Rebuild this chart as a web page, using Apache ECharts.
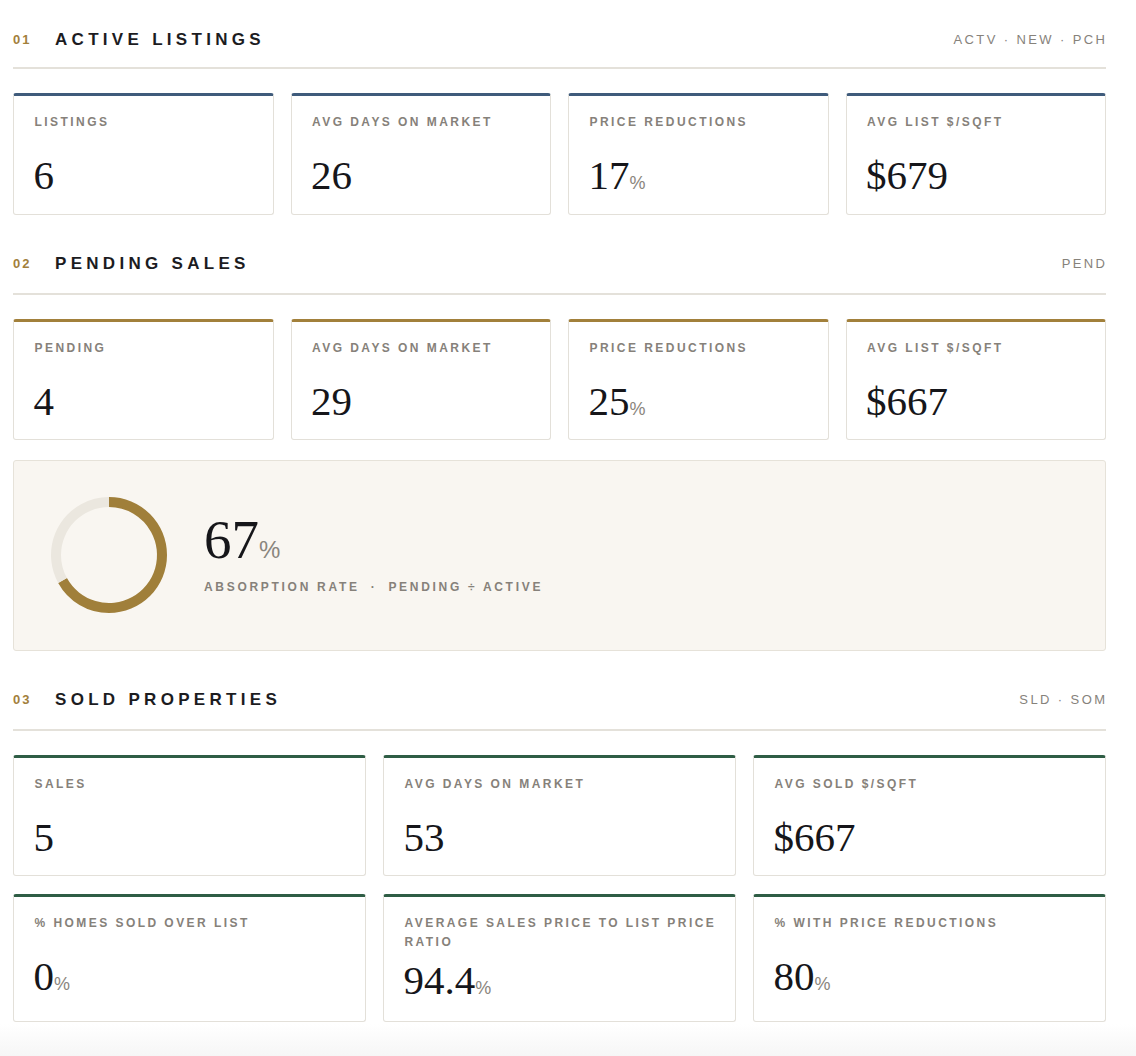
<!DOCTYPE html>
<html>
<head>
<meta charset="utf-8">
<title>Market Snapshot</title>
<script src="https://cdn.jsdelivr.net/npm/echarts@6/dist/echarts.min.js"></script>
<style>
    html, body { margin: 0; padding: 0; }
    body {
        width: 1136px; height: 1056px; position: relative; overflow: hidden;
        background: linear-gradient(#fff 1024px, #f6f6f6 1056px);
        font-family: "Liberation Sans", Arial, sans-serif;
    }
    .hdr { position: absolute; left: 13px; width: 1093px; height: 20px; line-height: 20px; white-space: nowrap; }
    .hdr .num { position: absolute; left: 0; font-size: 13px; font-weight: bold; color: #a2803b; letter-spacing: 2px; }
    .hdr .ttl { position: absolute; left: 42px; font-size: 17px; font-weight: bold; color: #1c1c1f; letter-spacing: 4.3px; }
    .hdr .code { position: absolute; right: -1.4px; font-size: 13px; color: #86827b; letter-spacing: 2.4px; }
    .rule { position: absolute; left: 13px; width: 1093px; height: 2px; background: #e4e1da; }
    .card {
        position: absolute; box-sizing: border-box; background: #fff;
        border: 1.5px solid #e3e0d9; border-top: 3px solid; border-radius: 3px;
    }
    .card .lbl {
        position: absolute; left: 20.5px; right: 14px; top: 17px;
        font-size: 12px; font-weight: bold; color: #86817a; letter-spacing: 2.45px; line-height: 19px;
    }
    .val {
        position: absolute; white-space: nowrap; color: #16161a;
        font-family: "Liberation Serif", "Times New Roman", serif;
    }
    .card .val { left: 19.5px; top: 58.7px; font-size: 41px; line-height: 41px; }
    .unit { font-family: "Liberation Sans", Arial, sans-serif; font-size: 18px; line-height: 1; color: #8a857d; }
    .panel {
        position: absolute; left: 13px; top: 460px; width: 1093px; height: 191px; box-sizing: border-box;
        background: #f9f6f1; border: 1.5px solid #e6e2d9; border-radius: 3px;
    }
    #donut { position: absolute; left: 29px; top: 475px; width: 160px; height: 160px; }
    .big { left: 204px; top: 512px; font-size: 55px; line-height: 55px; }
    .big .unit { font-size: 24px; }
    .sub {
        position: absolute; left: 204px; top: 579px; line-height: 16px; white-space: nowrap;
        font-size: 12px; font-weight: bold; color: #86817a; letter-spacing: 2.7px;
    }
    .sub .dot { margin: 0 5px; }
</style>
</head>
<body>
<div id="page"></div>
<div class="panel"></div>
<div id="donut"></div>
<div class="val big" id="absValue"></div>
<div class="sub">ABSORPTION RATE <span class="dot">·</span> PENDING ÷ ACTIVE</div>

<script>
    // 数据
    let sectionNums = ['01', '02', '03'];
    let sectionTitles = ['ACTIVE LISTINGS', 'PENDING SALES', 'SOLD PROPERTIES'];
    let sectionCodes = ['ACTV · NEW · PCH', 'PEND', 'SLD · SOM'];

    let activeLabels = ['LISTINGS', 'AVG DAYS ON MARKET', 'PRICE REDUCTIONS', 'AVG LIST $/SQFT'];
    let activeValues = [6, 26, 17, 679];
    let activeKinds = ['n', 'n', 'pct', 'usd'];

    let pendingLabels = ['PENDING', 'AVG DAYS ON MARKET', 'PRICE REDUCTIONS', 'AVG LIST $/SQFT'];
    let pendingValues = [4, 29, 25, 667];
    let pendingKinds = ['n', 'n', 'pct', 'usd'];

    let soldLabels = ['SALES', 'AVG DAYS ON MARKET', 'AVG SOLD $/SQFT',
        '% HOMES SOLD OVER LIST', 'AVERAGE SALES PRICE TO LIST PRICE RATIO', '% WITH PRICE REDUCTIONS'];
    let soldValues = [5, 53, 667, 0, 94.4, 80];
    let soldKinds = ['n', 'n', 'usd', 'pct', 'pct', 'pct'];

    let absorptionRate = 67;
    let absorptionRest = 33;

    // 布局
    let page = document.getElementById('page');
    let headerY = [40, 264, 700];
    let ruleY = [66.5, 292.5, 728.5];
    let accent = ['#3f5b7b', '#a2803b', '#2f5d45'];

    function fmt(v, kind) {
        if (kind === 'usd') return '$' + v;
        if (kind === 'pct') return v + '<span class="unit">%</span>';
        return '' + v;
    }

    function header(i) {
        let h = document.createElement('div');
        h.className = 'hdr';
        h.style.top = (headerY[i] - 10) + 'px';
        h.innerHTML = '<span class="num">' + sectionNums[i] + '</span>' +
            '<span class="ttl">' + sectionTitles[i] + '</span>' +
            '<span class="code">' + sectionCodes[i] + '</span>';
        page.appendChild(h);
        let r = document.createElement('div');
        r.className = 'rule';
        r.style.top = ruleY[i] + 'px';
        page.appendChild(r);
    }

    function card(x, y, w, h, color, label, value, kind, valShift) {
        let c = document.createElement('div');
        c.className = 'card';
        c.style.left = x + 'px';
        c.style.top = y + 'px';
        c.style.width = w + 'px';
        c.style.height = h + 'px';
        c.style.borderTopColor = color;
        c.innerHTML = '<div class="lbl">' + label + '</div>' +
            '<div class="val" style="top:' + (58.7 + (valShift || 0)) + 'px">' + fmt(value, kind) + '</div>';
        page.appendChild(c);
    }

    header(0);
    activeLabels.forEach(function (l, i) {
        card(13 + i * 277.5, 93, 260.5, 122, accent[0], l, activeValues[i], activeKinds[i]);
    });

    header(1);
    pendingLabels.forEach(function (l, i) {
        card(13 + i * 277.5, 319, 260.5, 121, accent[1], l, pendingValues[i], pendingKinds[i]);
    });

    header(2);
    soldLabels.forEach(function (l, i) {
        let row = Math.floor(i / 3), col = i % 3;
        let y = row === 0 ? 755 : 894;
        let h = row === 0 ? 121 : 128;
        card(13 + col * 370, y, 353, h, accent[2], l, soldValues[i], soldKinds[i], i === 4 ? 4 : 0);
    });

    document.getElementById('absValue').innerHTML = fmt(absorptionRate, 'pct');

    // 基于准备好的dom，初始化echarts实例
    let myChart = echarts.init(document.getElementById('donut'));
    myChart.setOption({
        animation: false,
        series: [
            {
                type: 'pie',
                center: ['50%', '50%'],
                radius: [48, 58],
                startAngle: 90,
                clockwise: true,
                silent: true,
                label: { show: false },
                labelLine: { show: false },
                data: [
                    { name: 'Absorption', value: absorptionRate, itemStyle: { color: '#a07f3a' } },
                    { name: 'Remaining', value: absorptionRest, itemStyle: { color: '#ebe7df' } }
                ]
            }
        ]
    });
</script>
</body>
</html>
